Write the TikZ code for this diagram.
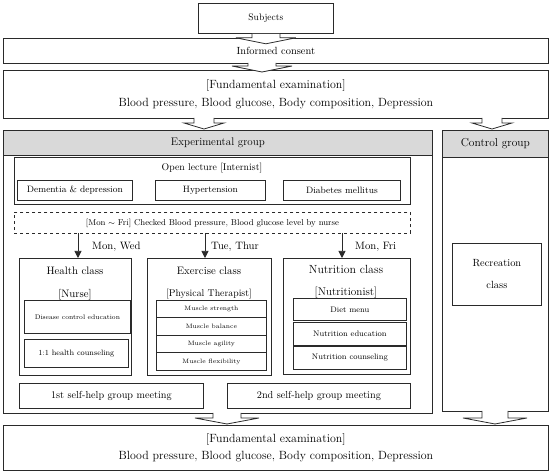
\documentclass[tikz,border=0pt]{standalone}
\usetikzlibrary{arrows.meta}
\definecolor{hdr}{HTML}{D9D9D9}
\definecolor{ln}{HTML}{2A2A2A}
\begin{document}
\begin{tikzpicture}[x=1pt,y=-1pt,
  bx/.style={draw=ln, line width=0.8pt, rectangle, anchor=north west, inner sep=0pt, align=center},
  hd/.style={bx, fill=hdr},
  dsh/.style={bx, dashed},
  sarrow/.style={draw=ln, line width=0.7pt, -{Triangle[length=7pt,width=7pt]}},
  lbl/.style={font=\fontsize{10.7}{12}\selectfont, anchor=west, inner sep=0pt},
  pics/barrow/.style args={#1/#2/#3}{code={
    \draw[draw=ln, line width=0.8pt, fill=white] (-#2,0) -- (-#2,#1) -- (-#3,#1) -- (0,{#1+6}) -- (#3,#1) -- (#2,#1) -- (#2,0);}}
]
\useasboundingbox (0,0) rectangle (550,473);
% top chain
\node[bx, minimum width=135pt, minimum height=30pt, font=\fontsize{9.5}{11}\selectfont] (subj) at (198,3) {Subjects};
\node[bx, minimum width=545pt, minimum height=25pt, font=\fontsize{10.4}{12}\selectfont] (cons) at (3,38) {Informed consent};
\node[bx, minimum width=545pt, minimum height=48pt, font=\fontsize{11.9}{17.5}\selectfont] (fund) at (3,70) {[Fundamental examination]\\Blood pressure, Blood glucose, Body composition, Depression};
% groups
\node[bx, minimum width=429pt, minimum height=283pt] (exp) at (3,130) {};
\node[hd, minimum width=429pt, minimum height=25pt, font=\fontsize{11}{12}\selectfont] (exph) at (3,130) {Experimental group};
\node[bx, minimum width=106pt, minimum height=281pt] (ctl) at (442,130) {};
\node[hd, minimum width=106pt, minimum height=27pt, font=\fontsize{11.5}{12}\selectfont] (ctlh) at (442,130) {Control group};
\node[bx, minimum width=89pt, minimum height=62pt, font=\fontsize{10.4}{22}\selectfont] (rec) at (452,243) {Recreation\\class};
% open lecture
\node[bx, minimum width=396pt, minimum height=47pt] (open) at (14,157) {};
\node[font=\fontsize{9.8}{11}\selectfont, inner sep=0pt] (opent) at (212,168) {Open lecture [Internist]};
\node[bx, minimum width=115pt, minimum height=20pt, font=\fontsize{9.2}{10}\selectfont] (dem) at (17,180) {Dementia \& depression};
\node[bx, minimum width=110pt, minimum height=20pt, font=\fontsize{9.2}{10}\selectfont] (hyp) at (155,180) {Hypertension};
\node[bx, minimum width=117pt, minimum height=20pt, font=\fontsize{9.2}{10}\selectfont] (dia) at (283,180) {Diabetes mellitus};
% dashed
\node[dsh, minimum width=396pt, minimum height=21pt, font=\fontsize{8.5}{10}\selectfont] (chk) at (14,212) {[Mon $\sim$ Fri] Checked Blood pressure, Blood glucose level by nurse};
% classes
\node[bx, minimum width=112pt, minimum height=117pt] (hc) at (19,258) {};
\node[font=\fontsize{10.8}{12}\selectfont, inner sep=0pt] (hct) at (75,271) {Health class};
\node[font=\fontsize{10.8}{12}\selectfont, inner sep=0pt] (hcn) at (75,295) {[Nurse]};
\node[bx, minimum width=106pt, minimum height=33pt, font=\fontsize{6.7}{8}\selectfont] (dce) at (24,300) {Disease control education};
\node[bx, minimum width=104pt, minimum height=28pt, font=\fontsize{7.8}{9}\selectfont] (hco) at (24,339) {1:1 health counseling};

\node[bx, minimum width=124pt, minimum height=117pt] (ec) at (147,258) {};
\node[font=\fontsize{10.8}{12}\selectfont, inner sep=0pt] (ect) at (209,271) {Exercise class};
\node[font=\fontsize{9.8}{11}\selectfont, inner sep=0pt] (ecn) at (209,294) {[Physical Therapist]};
\node[bx, minimum width=110pt, minimum height=17.5pt, font=\fontsize{6.3}{7}\selectfont] (ms) at (156,300) {Muscle strength};
\node[bx, minimum width=110pt, minimum height=17.5pt, font=\fontsize{6.3}{7}\selectfont] (mb) at (156,317.5) {Muscle balance};
\node[bx, minimum width=110pt, minimum height=17.5pt, font=\fontsize{6.3}{7}\selectfont] (ma) at (156,335) {Muscle agility};
\node[bx, minimum width=110pt, minimum height=17.5pt, font=\fontsize{6.3}{7}\selectfont] (mf) at (156,352.5) {Muscle flexibility};

\node[bx, minimum width=127pt, minimum height=116pt] (nc) at (283,258) {};
\node[font=\fontsize{11.8}{13}\selectfont, inner sep=0pt] (nct) at (346,269) {Nutrition class};
\node[font=\fontsize{11.2}{12}\selectfont, inner sep=0pt] (ncn) at (346,293) {[Nutritionist]};
\node[bx, minimum width=113pt, minimum height=22pt, font=\fontsize{8}{9}\selectfont] (dm) at (293,298) {Diet menu};
\node[bx, minimum width=113pt, minimum height=23pt, font=\fontsize{8}{9}\selectfont] (ne) at (293,322) {Nutrition education};
\node[bx, minimum width=113pt, minimum height=23pt, font=\fontsize{8}{9}\selectfont] (nco) at (293,346) {Nutrition counseling};
% self-help
\node[bx, minimum width=184pt, minimum height=25pt, font=\fontsize{10.2}{11}\selectfont] (sh1) at (19,383) {1st self-help group meeting};
\node[bx, minimum width=183pt, minimum height=25pt, font=\fontsize{10.2}{11}\selectfont] (sh2) at (227,383) {2nd self-help group meeting};
% final
\node[bx, minimum width=545pt, minimum height=45pt, font=\fontsize{11.9}{17.5}\selectfont] (fin) at (3,425) {[Fundamental examination]\\Blood pressure, Blood glucose, Body composition, Depression};
% small arrows
\coordinate (a1) at (78,233);
\coordinate (a2) at (205,233);
\coordinate (a3) at (342,233);
\draw[sarrow] (a1) -- (a1 |- hc.north);
\draw[sarrow] (a2) -- (a2 |- ec.north);
\draw[sarrow] (a3) -- (a3 |- nc.north);
\node[lbl] (l1) at (92,247) {Mon, Wed};
\node[lbl] (l2) at (211,247) {Tue, Thur};
\node[lbl] (l3) at (355,247) {Mon, Fri};
% block arrows
\pic at (subj.south) {barrow=4/14/30};
\pic at (262,63) {barrow=3/14/30};
\pic at (204,118) {barrow=5/10/20};
\pic at (492,118) {barrow=5/10/20};
\pic at (227,413) {barrow=5/14/32};
\pic at (495,411) {barrow=7/13/32};
\end{tikzpicture}
\end{document}
